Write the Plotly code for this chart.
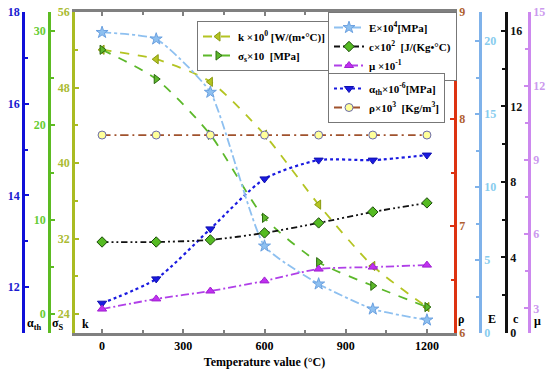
import plotly.graph_objects as go

temps = [0, 200, 400, 600, 800, 1000, 1200]
k_vals = [52.0, 51.0, 48.6, 43.0, 35.6, 29.1, 24.75]
sigma_vals = [28.0, 24.9, 19.0, 10.2, 5.5, 3.0, 0.75]
E_vals = [20.6, 20.15, 16.5, 5.96, 3.36, 1.64, 0.89]
c_vals = [4.82, 4.82, 4.93, 5.30, 5.83, 6.41, 6.89]
mu_vals = [2.97, 3.38, 3.70, 4.11, 4.59, 4.67, 4.75]
alpha_vals = [11.65, 12.18, 13.27, 14.36, 14.77, 14.77, 14.88]
rho_vals = [7.85, 7.85, 7.85, 7.85, 7.85, 7.85, 7.85]

x_ticks = [0, 300, 600, 900, 1200]

W, H = 550, 376
L_PX, R_PX, T_PX, B_PX = 75, 454, 12, 333

FONT = "Liberation Serif, Times New Roman, serif"

fig = go.Figure()

def add(name, y, yaxis, color, dash, symbol, mfill, medge, legend, msize=8, lw=1.8, sm=0.7):
    fig.add_trace(go.Scatter(
        x=temps, y=y, yaxis=yaxis, name=name, legend=legend,
        mode="lines+markers",
        line=dict(color=color, dash=dash, width=lw, shape="spline", smoothing=sm),
        marker=dict(symbol=symbol, size=msize, color=mfill, line=dict(color=medge, width=1)),
    ))

add("k ×10<sup>0</sup> [W/(m•°C)]", k_vals, "y", "#b4c422", "dash", "triangle-left", "#b4c422", "#8a9a10", "legend")
add("σ<sub>s</sub>×10&nbsp;&nbsp;[MPa]", sigma_vals, "y2", "#5cb82a", "dash", "triangle-right", "#5cb82a", "#2d6a10", "legend")
add("E×10<sup>4</sup>[MPa]", E_vals, "y5", "#8ec0f0", "dashdot", "star", "#8ec0f0", "#6aa0e0", "legend2", msize=9, sm=0.5)
add("c×10<sup>2</sup>&nbsp;&nbsp;[J/(Kg•°C)", c_vals, "y6", "#111111", "6px,3px,2px,3px,2px,3px", "diamond", "#55bb22", "#1a4a08", "legend2")
add("μ ×10<sup>-1</sup>", mu_vals, "y7", "#b040e8", "8px,3px,2px,3px", "triangle-up", "#c030f0", "#a020d0", "legend2")
add("α<sub>th</sub>×10<sup>-6</sup>[MPa]", alpha_vals, "y3", "#1a1ae0", "dot", "triangle-down", "#1a1ae0", "#1010b0", "legend3", lw=2.2)
add("ρ×10<sup>3</sup>&nbsp;&nbsp;[Kg/m<sup>3</sup>]", rho_vals, "y4", "#a0522d", "8px,4px,2px,4px", "circle", "#ffff99", "#6a6aaa", "legend3", msize=8)

def yax(color, lab_color, rng, dtick, minor, side, pos=None, anchor="x", overlay=True):
    d = dict(
        range=rng, showgrid=False, zeroline=False,
        showline=True, linecolor=color, linewidth=2.5,
        ticks="inside", ticklen=4, tickwidth=2, tickcolor=color,
        minor=dict(dtick=minor, ticks="inside", ticklen=3, tickwidth=1.5, tickcolor=color),
        tickfont=dict(family=FONT, size=12, color=lab_color, weight="bold"),
        side=side, dtick=dtick, tick0=0,
    )
    if pos is not None:
        d["anchor"] = "free"
        d["position"] = pos
    else:
        d["anchor"] = anchor
    if overlay:
        d["overlaying"] = "y"
    return d

legend_common = dict(
    bgcolor="white", bordercolor="#777777", borderwidth=1,
    font=dict(family=FONT, size=11, color="black", weight="bold"),
    xanchor="left", yanchor="top", tracegroupgap=0, itemwidth=30,
)

def py(p):
    return (B_PX - p) / (B_PX - T_PX)

fig.update_layout(
    width=W, height=H,
    margin=dict(l=0, r=0, t=T_PX, b=H - B_PX),
    plot_bgcolor="white", paper_bgcolor="white",
    font=dict(family=FONT),
    xaxis=dict(
        domain=[L_PX / W, R_PX / W], range=[-100, 1300],
        tickmode="array", tickvals=x_ticks,
        showgrid=False, zeroline=False, showline=True, linecolor="#808080", linewidth=2.5,
        mirror="ticks", ticks="inside", ticklen=4, tickwidth=2, tickcolor="#808080",
        minor=dict(dtick=150, tick0=0, ticks="inside", ticklen=3, tickwidth=1.5, tickcolor="#808080"),
        tickfont=dict(family=FONT, size=12, color="black", weight="bold"),
        title=dict(text="Temperature value (°C)", font=dict(family=FONT, size=12, color="black", weight="bold"), standoff=6),
    ),
    yaxis=yax("#aabb22", "#aabb33", [22, 56], 8, 4, "left", overlay=False),
    yaxis2=yax("#5cbb22", "#66cc33", [-2, 32], 10, 5, "left", pos=49 / W),
    yaxis3=yax("#1010d8", "#1a1ad0", [11, 18], 2, 1, "left", pos=23 / W),
    yaxis4=yax("#dd3311", "#b06030", [6, 9], 1, 0.5, "right", anchor="x"),
    yaxis5=yax("#7fb2ea", "#88ccee", [0, 22], 5, 2.5, "right", pos=480 / W),
    yaxis6=yax("#111111", "#111111", [0, 17], 4, 2, "right", pos=506 / W),
    yaxis7=yax("#cc88ee", "#cc99ee", [2, 15], 3, 1.5, "right", pos=529 / W),
    legend=dict(x=197 / W, y=py(21), **legend_common),
    legend2=dict(x=328 / W, y=py(12), **legend_common),
    legend3=dict(x=328 / W, y=py(73), **legend_common),
    showlegend=True,
)

labels = [
    ("α<sub>th</sub>", 34, 324), ("σ<sub>S</sub>", 58, 324), ("k", 85, 324),
    ("ρ", 461, 319), ("E", 492, 319), ("c", 516, 319), ("μ", 537, 321),
]
for txt, xp, yp in labels:
    fig.add_annotation(
        text=txt, x=xp / W, y=py(yp), xref="paper", yref="paper",
        showarrow=False, xanchor="center", yanchor="middle",
        font=dict(family=FONT, size=12, color="black", weight="bold"),
    )

fig.write_html(
    "out.html",
    config={"displayModeBar": False},
    post_script="document.body.style.margin='0';document.body.style.padding='0';",
)
